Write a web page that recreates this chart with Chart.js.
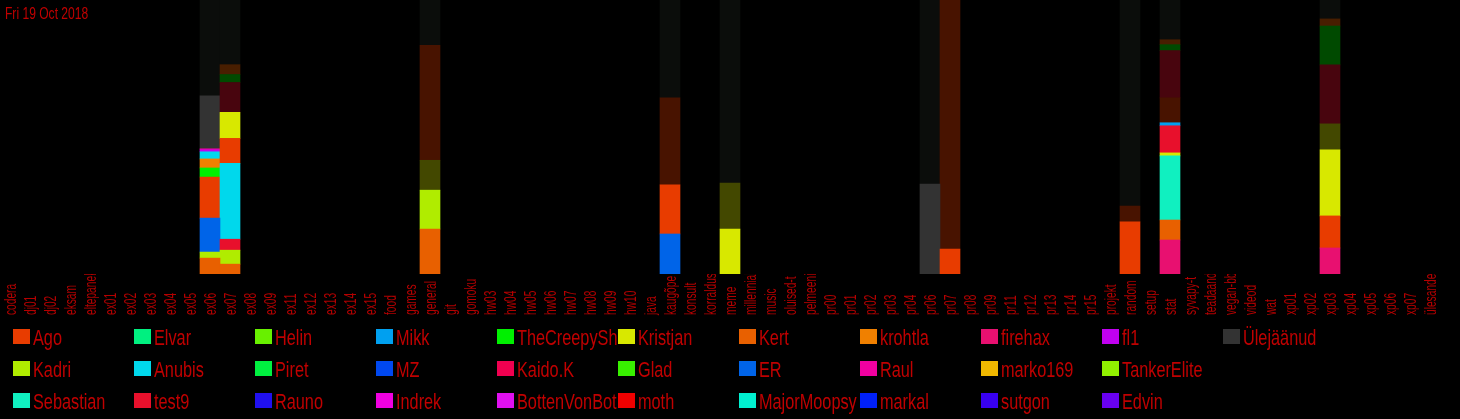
<!DOCTYPE html>
<html lang="et">
<head>
    <meta charset="UTF-8">
    <title>Kanalite aktiivsus</title>
    <script src="https://cdn.jsdelivr.net/npm/chart.js"></script>
    <style>
        body {
            margin: 0;
            background: #000;
        }
        canvas {
            display: block;
        }
    </style>
</head>
<body>
    <canvas id="graafik" width="1460" height="419"></canvas>

    <script>
        var title = 'Fri 19 Oct 2018';

        var channels = ['codera', 'dj01', 'dj02', 'eksam', 'eltepanek', 'ex01', 'ex02', 'ex03', 'ex04', 'ex05',
            'ex06', 'ex07', 'ex08', 'ex09', 'ex11', 'ex12', 'ex13', 'ex14', 'ex15', 'food', 'games', 'general',
            'git', 'gomoku', 'hw03', 'hw04', 'hw05', 'hw06', 'hw07', 'hw08', 'hw09', 'hw10', 'java', 'kaugõpe',
            'konsult', 'korraldus', 'meme', 'millennial', 'music', 'oluised-t', 'pelmeeni-', 'pr00', 'pr01',
            'pr02', 'pr03', 'pr04', 'pr06', 'pr07', 'pr08', 'pr09', 'pr11', 'pr12', 'pr13', 'pr14', 'pr15',
            'projekt', 'random', 'setup', 'stat', 'syvapy-t', 'teadaand', 'vegan-bb', 'videod', 'wat', 'xp01',
            'xp02', 'xp03', 'xp04', 'xp05', 'xp06', 'xp07', 'ülesanded'];

        // legend order (goes down the columns)
        var users = ['Ago', 'Kadri', 'Sebastian', 'Elvar', 'Anubis', 'test9', 'Helin', 'Piret', 'Rauno',
            'Mikk', 'MZ', 'Indrek', 'TheCreepyShadow', 'Kaido.K', 'BottenVonBot', 'Kristjan', 'Glad', 'moth',
            'Kert', 'ER', 'MajorMoopsy', 'krohtla', 'Raul', 'markal', 'firehax', 'marko169', 'sutgon',
            'fl1', 'TankerElite', 'Edvin', 'Ülejäänud'];
        var userColors = ['#e83c00', '#b0ec00', '#10f0c0', '#00f080', '#00d8ec', '#e8102c', '#68f000',
            '#00f040', '#2010f0', '#00a0f0', '#0048f0', '#f000e0', '#00f000', '#f00050', '#e010f0',
            '#d8e800', '#38f000', '#f00000', '#e86000', '#0064e8', '#00f0d0', '#f08000', '#f000a0',
            '#0020f8', '#e81070', '#f0b800', '#3800f0', '#c000f0', '#90f000', '#6800f0', '#333333'];

        // bars from bottom to top: [user, % of bar, 1 = older messages (dark shade)]
        var ex06 = [['Kert', 5.8], ['Kadri', 2.2], ['ER', 12.4], ['Ago', 15.0], ['TheCreepyShadow', 3.3],
            ['krohtla', 3.3], ['Anubis', 2.6], ['fl1', 0.7], ['Raul', 0.4], ['Ülejäänud', 19.3],
            ['Ülejäänud', 35.0, 1]];
        var ex07 = [['Kert', 3.6], ['Kadri', 5.1], ['test9', 4.0], ['Anubis', 27.7], ['Ago', 9.1],
            ['Kristjan', 9.5], ['test9', 10.9, 1], ['TheCreepyShadow', 2.9, 1], ['Kert', 3.6, 1],
            ['Ülejäänud', 23.6, 1]];
        var general = [['Kert', 16.4], ['Kadri', 14.2], ['Kristjan', 10.9, 1], ['Ago', 42.0, 1],
            ['Ülejäänud', 16.5, 1]];
        var kaugope = [['ER', 14.6], ['Ago', 17.9], ['Ago', 31.8, 1], ['Ülejäänud', 35.7, 1]];
        var meme = [['Kristjan', 16.4], ['Kristjan', 16.8, 1], ['Ülejäänud', 66.8, 1]];
        var pr06 = [['Ülejäänud', 32.8], ['Ülejäänud', 67.2, 1]];
        var pr07 = [['Ago', 9.1], ['Ago', 90.9, 1]];
        var random = [['Ago', 19.0], ['Ago', 5.8, 1], ['Ülejäänud', 75.2, 1]];
        var stat = [['firehax', 12.4], ['Kert', 7.3], ['Sebastian', 23.4], ['Kristjan', 1.1], ['test9', 9.9],
            ['Mikk', 1.1], ['Ago', 9.1, 1], ['test9', 17.2, 1], ['TheCreepyShadow', 2.2, 1], ['Kert', 1.8, 1],
            ['Ülejäänud', 14.5, 1]];
        var xp03 = [['firehax', 9.5], ['Ago', 11.7], ['Kristjan', 24.1], ['Kristjan', 9.5, 1],
            ['test9', 21.5, 1], ['TheCreepyShadow', 14.2, 1], ['Kert', 2.6, 1], ['Ülejäänud', 6.9, 1]];

        var bars = {
            'ex06': ex06, 'ex07': ex07, 'general': general, 'kaugõpe': kaugope, 'meme': meme,
            'pr06': pr06, 'pr07': pr07, 'random': random, 'stat': stat, 'xp03': xp03
        };

        function shade(hex, k) {
            var n = parseInt(hex.slice(1), 16);
            var r = Math.round((n >> 16) * k), g = Math.round(((n >> 8) & 255) * k), b = Math.round((n & 255) * k);
            return 'rgb(' + r + ',' + g + ',' + b + ')';
        }

        function segmentColor(seg) {
            var c = userColors[users.indexOf(seg[0])];
            if (!seg[2]) return c;
            if (seg[0] === 'Ülejäänud') return '#0b0d0b';
            return shade(c, 0.31);
        }

        // one dataset per stack level, colours per bar
        var levels = 0;
        for (var key in bars) levels = Math.max(levels, bars[key].length);
        var datasets = [];
        for (var k = 0; k < levels; k++) {
            datasets.push({
                label: 'kiht ' + k,
                data: channels.map(function (c) { return bars[c] && bars[c][k] ? bars[c][k][1] : null; }),
                backgroundColor: channels.map(function (c) {
                    return bars[c] && bars[c][k] ? segmentColor(bars[c][k]) : 'transparent';
                }),
                borderWidth: 0,
                categoryPercentage: 1,
                barPercentage: 1
            });
        }

        var RED = '#c00000';

        function condensed(ctx, text, x, y, size, sx) {
            ctx.save();
            ctx.translate(x, y);
            ctx.scale(sx, 1);
            ctx.font = size + 'px "Liberation Sans", sans-serif';
            ctx.fillText(text, 0, 0);
            ctx.restore();
        }

        var extras = {
            id: 'extras',
            afterDraw: function (chart) {
                var ctx = chart.ctx;
                var area = chart.chartArea;
                var xs = chart.scales.x;
                ctx.save();
                ctx.fillStyle = RED;
                ctx.textBaseline = 'alphabetic';
                condensed(ctx, title, 5, 19, 17, 0.71);

                // channel names, reading upwards, clipped at the bars
                ctx.save();
                ctx.beginPath();
                ctx.rect(0, area.bottom, chart.width, 50);
                ctx.clip();
                ctx.fillStyle = '#b40000';
                ctx.textAlign = 'left';
                ctx.textBaseline = 'middle';
                channels.forEach(function (c, i) {
                    ctx.save();
                    ctx.translate(xs.getPixelForValue(i) + 1, 315);
                    ctx.rotate(-Math.PI / 2);
                    ctx.scale(0.6, 1);
                    ctx.font = '17px "Liberation Sans", sans-serif';
                    ctx.fillText(c, 0, 0);
                    ctx.restore();
                });
                ctx.restore();

                // legend
                users.forEach(function (u, i) {
                    var col = Math.floor(i / 3), row = i % 3;
                    var x = 13 + col * 121, y = 329 + row * 32;
                    ctx.fillStyle = userColors[i];
                    ctx.fillRect(x, y, 17, 15);
                    ctx.save();
                    ctx.beginPath();
                    ctx.rect(x + 18, y - 5, 103, 30);
                    ctx.clip();
                    ctx.fillStyle = RED;
                    ctx.textBaseline = 'alphabetic';
                    condensed(ctx, u, x + 20, y + 16, 22, 0.74);
                    ctx.restore();
                });
                ctx.restore();
            }
        };

        var ctx = document.getElementById('graafik').getContext('2d');
        var chart = new Chart(ctx, {
            type: 'bar',
            data: { labels: channels, datasets: datasets },
            options: {
                responsive: false,
                animation: false,
                layout: { padding: { left: 0, right: 20, top: 0, bottom: 145 } },
                scales: {
                    x: { stacked: true, display: false },
                    y: { stacked: true, display: false, min: 0, max: 100 }
                },
                plugins: {
                    legend: { display: false },
                    tooltip: { enabled: false }
                }
            },
            plugins: [extras]
        });
    </script>
</body>
</html>
